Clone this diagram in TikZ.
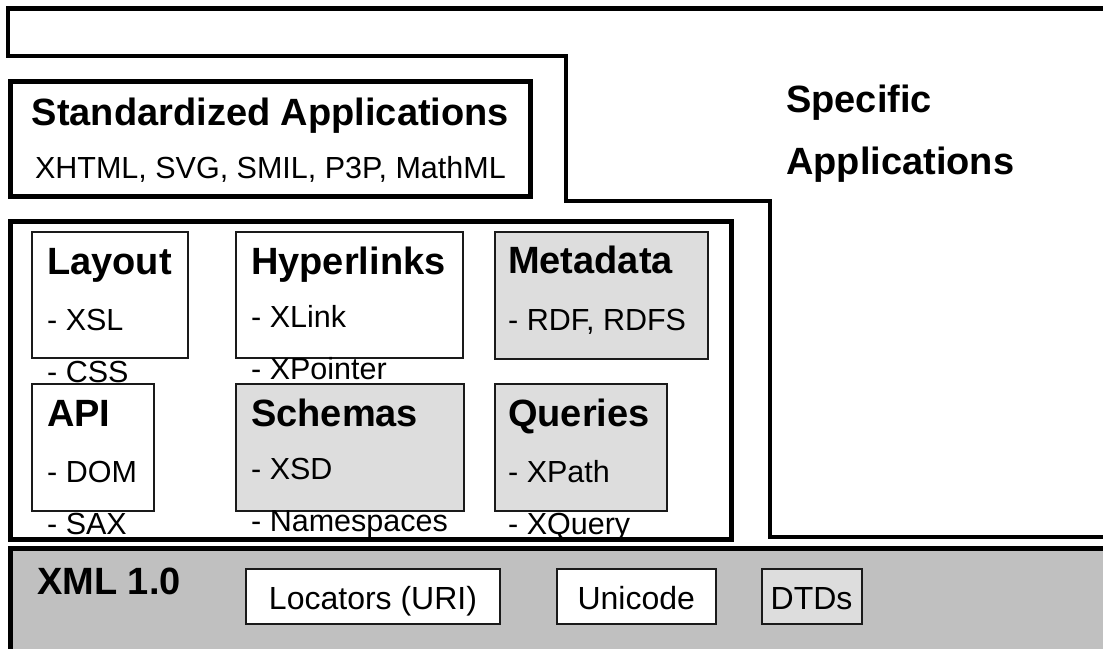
\documentclass[tikz,border=0pt]{standalone}
\usepackage{fontspec}
\setmainfont{Liberation Sans}
\usetikzlibrary{positioning}
\definecolor{bandgray}{HTML}{C0C0C0}
\definecolor{boxgray}{HTML}{DDDDDD}
\definecolor{edgegray}{HTML}{1A1A1A}

\begin{document}
\begin{tikzpicture}[
  x=1pt, y=-1pt,
  heavy/.style={line width=4.8pt},
  techbox/.style={rectangle, draw=edgegray, line width=1.8pt, fill=white, inner sep=0pt, anchor=north west},
  greybox/.style={techbox, fill=boxgray},
  lowbox/.style={rectangle, draw=edgegray, line width=1.8pt, fill=white, inner sep=0pt, minimum height=55pt, text height=26pt, text depth=1pt, font=\fontsize{32}{34}\selectfont},
  headtext/.style={font=\fontsize{38}{40}\selectfont\bfseries, inner sep=0pt, anchor=base west},
  itemtext/.style={font=\fontsize{30.5}{33}\selectfont, inner sep=0pt, anchor=base west}
]
  \useasboundingbox (0,0) rectangle (1103,648);
  \clip (0,0) rectangle (1103,648);

  % Specific applications outline (runs off the right edge)
  \draw[heavy] (1115,8.5) -| (8,56) -| (566,201) -| (770,537) -- (1115,537);
  \node[headtext] (spec-1) at (786,112) {Specific};
  \node[headtext, below=62pt of spec-1.base west, anchor=base west] (spec-2) {Applications};

  % Standardized applications
  \node[rectangle, draw, heavy, inner sep=0pt, minimum width=520pt, minimum height=115pt, anchor=north west] (std) at (8,79) {};
  \node[headtext, anchor=base] (std-head) at ([yshift=-46pt]std.north) {Standardized Applications};
  \node[itemtext, anchor=base] (std-list) at ([yshift=-53pt]std-head.base) {XHTML, SVG, SMIL, P3P, MathML};

  % Container of the XML technologies
  \node[rectangle, draw, heavy, inner sep=0pt, minimum width=721pt, minimum height=318pt, anchor=north west] (tech) at (8,219) {};

  % Upper row
  \node[techbox, minimum width=156pt, minimum height=126pt] (layout) at (31,231) {};
  \node[headtext] (layout-head) at ([xshift=16pt, yshift=-43pt]layout.north west) {Layout};
  \node[itemtext, below=56pt of layout-head.base west, anchor=base west] (layout-1) {- XSL};
  \node[itemtext, below=52pt of layout-1.base west, anchor=base west] (layout-2) {- CSS};

  \node[techbox, minimum width=227pt, minimum height=126pt] (links) at (235,231) {};
  \node[headtext] (links-head) at ([xshift=16pt, yshift=-43pt]links.north west) {Hyperlinks};
  \node[itemtext, below=53pt of links-head.base west, anchor=base west] (links-1) {- XLink};
  \node[itemtext, below=52pt of links-1.base west, anchor=base west] (links-2) {- XPointer};

  \node[greybox, minimum width=213pt, minimum height=127pt] (meta) at (494,231) {};
  \node[headtext] (meta-head) at ([xshift=14pt, yshift=-42pt]meta.north west) {Metadata};
  \node[itemtext, below=57pt of meta-head.base west, anchor=base west] (meta-1) {- RDF, RDFS};

  % Lower row
  \node[techbox, minimum width=122pt, minimum height=127pt] (api) at (31,383) {};
  \node[headtext] (api-head) at ([xshift=16pt, yshift=-43pt]api.north west) {API};
  \node[itemtext, below=56pt of api-head.base west, anchor=base west] (api-1) {- DOM};
  \node[itemtext, below=52pt of api-1.base west, anchor=base west] (api-2) {- SAX};

  \node[greybox, minimum width=228pt, minimum height=127pt] (schema) at (235,383) {};
  \node[headtext] (schema-head) at ([xshift=16pt, yshift=-43pt]schema.north west) {Schemas};
  \node[itemtext, below=53pt of schema-head.base west, anchor=base west] (schema-1) {- XSD};
  \node[itemtext, below=52pt of schema-1.base west, anchor=base west] (schema-2) {- Namespaces};

  \node[greybox, minimum width=172pt, minimum height=127pt] (query) at (494,383) {};
  \node[headtext] (query-head) at ([xshift=14pt, yshift=-43pt]query.north west) {Queries};
  \node[itemtext, below=56pt of query-head.base west, anchor=base west] (query-1) {- XPath};
  \node[itemtext, below=52pt of query-1.base west, anchor=base west] (query-2) {- XQuery};

  % XML 1.0 base layer
  \node[rectangle, draw, heavy, fill=bandgray, inner sep=0pt, minimum width=1120pt, minimum height=120pt, anchor=north west] (xml) at (8,546) {};
  \node[headtext] (xml-head) at ([xshift=29pt, yshift=-48pt]xml.north west) {XML 1.0};
  \node[lowbox, minimum width=254pt] (locators) at (373,596.5) {Locators (URI)};
  \node[lowbox, minimum width=159pt, right=55pt of locators] (unicode) {Unicode};
  \node[lowbox, minimum width=100pt, fill=boxgray, right=44pt of unicode] (dtds) {DTDs};
\end{tikzpicture}
\end{document}
